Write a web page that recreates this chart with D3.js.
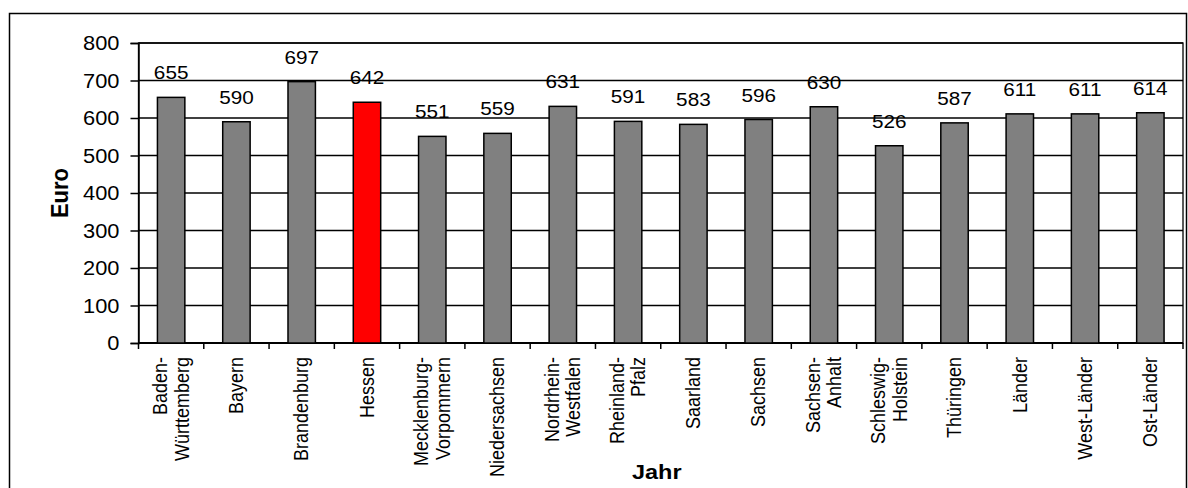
<!DOCTYPE html>
<html><head><meta charset="utf-8">
<script src="https://cdn.jsdelivr.net/npm/d3@7"></script>
<style>body{margin:0;background:#fff}svg{display:block;font-family:Arial,"Liberation Sans",sans-serif}</style>
</head><body><svg id="c" width="1188" height="488"></svg>
<script>
const categories = ["Baden-Württemberg","Bayern","Brandenburg","Hessen","Mecklenburg-Vorpommern","Niedersachsen","Nordrhein-Westfalen","Rheinland-Pfalz","Saarland","Sachsen","Sachsen-Anhalt","Schleswig-Holstein","Thüringen","Länder","West-Länder","Ost-Länder"];
const labelLines = [["Baden-","Württemberg"],["Bayern"],["Brandenburg"],["Hessen"],["Mecklenburg-","Vorpommern"],["Niedersachsen"],["Nordrhein-","Westfalen"],["Rheinland-","Pfalz"],["Saarland"],["Sachsen"],["Sachsen-","Anhalt"],["Schleswig-","Holstein"],["Thüringen"],["Länder"],["West-Länder"],["Ost-Länder"]];
const values = [655,590,697,642,551,559,631,591,583,596,630,526,587,611,611,614];
const highlight = "Hessen";
const yTicks = [0,100,200,300,400,500,600,700,800];
const yTitle = "Euro", xTitle = "Jahr";

const SX = 1.12; // horizontal text stretch of the original rendering
const svg = d3.select("#c");
const L=138.5, R=1183, T=43, B=343;
svg.append("rect").attr("x",9.5).attr("y",13.5).attr("width",1177).attr("height",490)
  .attr("fill","none").attr("stroke","#000").attr("stroke-width",1.5);

const x = d3.scaleBand().domain(categories).range([L,R]).paddingInner(0.58).paddingOuter(0.29);
const y = d3.scaleLinear().domain([0,800]).range([B,T]);

// gridlines
svg.append("g").selectAll("line").data(yTicks).join("line")
  .attr("x1",L).attr("x2",R).attr("y1",d=>y(d)).attr("y2",d=>y(d))
  .attr("stroke","#000").attr("stroke-width",1.3);
svg.append("rect").attr("x",L).attr("y",T).attr("width",R-L).attr("height",B-T)
  .attr("fill","none").attr("stroke","#000").attr("stroke-width",1.3);

// y axis
const ya = svg.append("g").attr("transform",`translate(${L},0)`)
  .call(d3.axisLeft(y).tickValues(yTicks).tickSize(8).tickFormat(""));
ya.select(".domain").attr("stroke","#000").attr("stroke-width",1.5);
ya.selectAll(".tick line").attr("stroke","#000").attr("stroke-width",1.5);
svg.append("g").selectAll("text").data(yTicks).join("text")
  .attr("transform",d=>`translate(${L-19},${y(d)}) scale(${SX},1)`)
  .attr("dy","0.36em").attr("text-anchor","end").attr("font-size",19.5).attr("fill","#000").text(d=>d);

// x axis ticks at band boundaries
const bounds = d3.range(categories.length+1).map(i=>L+i*x.step());
const xa = svg.append("g");
xa.append("line").attr("x1",L).attr("x2",R).attr("y1",B).attr("y2",B).attr("stroke","#000").attr("stroke-width",2);
xa.selectAll("line.t").data(bounds).join("line").attr("class","t")
  .attr("x1",d=>d).attr("x2",d=>d).attr("y1",B).attr("y2",B+6).attr("stroke","#000").attr("stroke-width",1.5);

// bars
svg.append("g").selectAll("rect").data(values).join("rect")
  .attr("x",(d,i)=>x(categories[i])).attr("width",x.bandwidth())
  .attr("y",d=>y(d)).attr("height",d=>y(0)-y(d))
  .attr("fill",(d,i)=>categories[i]===highlight?"#ff0000":"#808080")
  .attr("stroke","#000").attr("stroke-width",1.5);

// value labels
svg.append("g").selectAll("text").data(values).join("text")
  .attr("transform",(d,i)=>`translate(${x(categories[i])+x.bandwidth()/2},${y(d)-18}) scale(${SX},1)`)
  .attr("text-anchor","middle").attr("font-size",18.5).attr("fill","#000").text(d=>d);

// category labels
const cg = svg.append("g");
labelLines.forEach((lines,i)=>{
  const cx = x(categories[i])+x.bandwidth()/2;
  const t = cg.append("text").attr("transform",`translate(${cx},${B+14}) scale(${SX},1) rotate(-90)`)
    .attr("text-anchor","end").attr("font-size",18).attr("fill","#000");
  lines.forEach((ln,j)=>{
    const off = (j-(lines.length-1)/2)*19;
    t.append("tspan").attr("x",0).attr("y",off+6).text(ln);
  });
});

// titles
svg.append("text").attr("transform",`translate(68,${(T+B)/2}) scale(${SX},1) rotate(-90)`)
  .attr("text-anchor","middle").attr("font-size",22).attr("font-weight","bold").text(yTitle);
svg.append("text").attr("transform",`translate(${(L+R)/2-4},479) scale(${SX},1)`).attr("text-anchor","middle")
  .attr("font-size",21).attr("font-weight","bold").text(xTitle);
</script></body></html>
